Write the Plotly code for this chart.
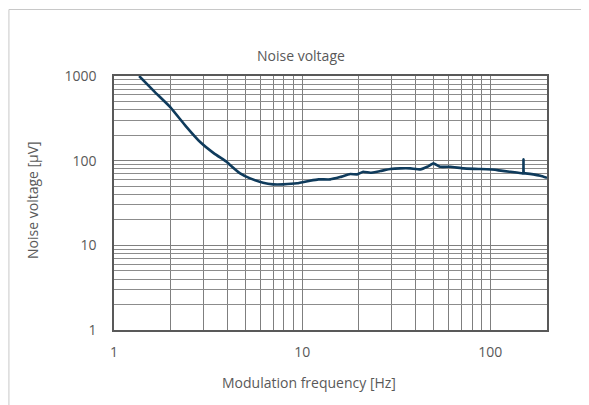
import plotly.graph_objects as go

# Data
freq_hz = [1.36, 1.65, 1.99, 2.40, 2.87, 3.40, 3.99, 4.14, 4.68, 5.29, 6.20, 7.01,
           7.92, 9.40, 11.0, 12.2, 14.1, 15.9, 18.0, 19.6, 21.1, 23.0, 26.0, 29.4,
           33.2, 37.5, 42.4, 46.2, 49.8, 54.2, 61.3, 71.9, 88.5, 108.9, 127.8,
           148.0, 149.6, 150.0, 150.5, 153.5, 169.3, 184.5, 200.0]
noise_uv = [1000, 645, 429, 258, 166, 122, 96, 88.7, 70.8, 61.8, 54.8, 52.5,
            52.5, 54.0, 57.9, 60.1, 60.1, 64.0, 69.5, 68.9, 73.9, 72.0, 75.4, 79.6,
            81.1, 81.1, 78.9, 84.7, 92.9, 84.7, 84.7, 81.1, 79.6, 77.4, 73.9,
            70.8, 71.0, 104, 71.0, 70.8, 68.9, 66.3, 62.8]

x_major = [1, 10, 100]
y_major = [1, 10, 100, 1000]
x_minor = [2, 3, 4, 5, 6, 7, 8, 9, 20, 30, 40, 50, 60, 70, 80, 90, 200]
y_minor = [2, 3, 4, 5, 6, 7, 8, 9, 20, 30, 40, 50, 60, 70, 80, 90,
           200, 300, 400, 500, 600, 700, 800, 900]

W, H = 589, 405
OFF = 8  # page body offset
# plot area in reference pixel coordinates
PL, PR, PT, PB = 114, 546.7, 76, 330
pw, ph = PR - PL, PB - PT

txt = "#595959"
font = dict(family="Open Sans", size=14, color=txt)

fig = go.Figure()
fig.add_trace(go.Scatter(x=freq_hz, y=noise_uv, mode="lines",
                         line=dict(color="#0f3b5c", width=2.6, shape="spline",
                                   smoothing=0.3),
                         showlegend=False, hoverinfo="skip"))

axis_common = dict(type="log", showgrid=True, gridcolor="#7f7f7f", gridwidth=1,
                   showline=True, linecolor="#595959", linewidth=1.5, mirror=True,
                   ticks="", zeroline=False, tickfont=font, tickmode="array")

fig.update_xaxes(**axis_common, range=[0, 2.30103], tickvals=x_major,
                 ticktext=[str(v) for v in x_major], ticklabelstandoff=8,
                 minor=dict(tickmode="array", tickvals=x_minor, showgrid=True,
                            gridcolor="#7f7f7f", gridwidth=1, ticks=""))
fig.update_yaxes(**axis_common, range=[0, 3], tickvals=y_major,
                 ticktext=[str(v) for v in y_major], ticklabelstandoff=13,
                 minor=dict(tickmode="array", tickvals=y_minor, showgrid=True,
                            gridcolor="#8c8c8c", gridwidth=1, ticks=""))


def px_x(p):
    return (p - PL) / pw


def px_y(p):
    return (PB - p) / ph


fig.update_layout(
    width=W, height=H,
    margin=dict(l=PL - OFF, r=(W + OFF) - PR, t=PT - OFF, b=(H + OFF) - PB),
    paper_bgcolor="white", plot_bgcolor="white",
    font=font,
    annotations=[
        dict(text="Noise voltage", x=px_x(301), y=px_y(56), xref="paper", yref="paper",
             showarrow=False, font=font, xanchor="center", yanchor="middle"),
        dict(text="Modulation frequency [Hz]", x=px_x(309), y=px_y(382), xref="paper",
             yref="paper", showarrow=False, font=font,
             xanchor="center", yanchor="middle"),
        dict(text="Noise voltage [µV]", x=px_x(32), y=px_y(200), xref="paper",
             yref="paper", showarrow=False, textangle=-90, font=font,
             xanchor="center", yanchor="middle"),
    ],
    shapes=[
        dict(type="rect", xref="paper", yref="paper",
             x0=px_x(9), y0=px_y(430), x1=px_x(640), y1=px_y(9.5),
             line=dict(color="#c8c8c8", width=1), fillcolor="rgba(0,0,0,0)",
             layer="below"),
    ],
)

fig.write_html("out.html")
